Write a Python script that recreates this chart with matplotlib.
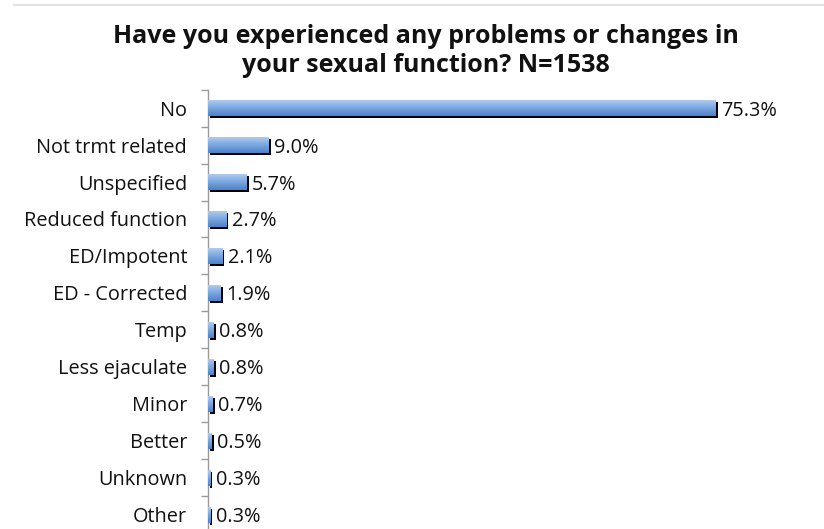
import numpy as np
import matplotlib
matplotlib.use("Agg")
import matplotlib.pyplot as plt
import matplotlib.patheffects as pe
from matplotlib.lines import Line2D

categories = ["No", "Not trmt related", "Unspecified", "Reduced function", "ED/Impotent",
              "ED - Corrected", "Temp", "Less ejaculate", "Minor", "Better", "Unknown", "Other"]
values = [75.3, 9.0, 5.7, 2.7, 2.1, 1.9, 0.8, 0.8, 0.7, 0.5, 0.3, 0.3]
title = "Have you experienced any problems or changes in\nyour sexual function? N=1538"

plt.rcParams['font.family'] = ['Open Sans', 'DejaVu Sans']

W, H = 824, 529
fig = plt.figure(figsize=(W / 100, H / 100), dpi=100)
# axes placed in pixel terms, bottom runs slightly past the figure edge
left, right, top = 208, 815, 89.6
ax = fig.add_axes([left / W, -0.008, (right - left) / W, (H - top) / H + 0.008])

y = np.arange(len(categories))
bh = 0.44
bars = ax.barh(y, values, height=bh, color="#6a9bd8", linewidth=0,
               path_effects=[pe.SimplePatchShadow(offset=(1.6, -1.5), shadow_rgbFace="k", alpha=1),
                             pe.Normal()], zorder=2)

# vertical gradient on each bar
grad = np.linspace(0, 1, 64).reshape(-1, 1)
cmap = matplotlib.colors.LinearSegmentedColormap.from_list("g", ["#b5d0f2", "#7aa8e2", "#4f81c7"])
for b, yi, v in zip(bars, y, values):
    im = ax.imshow(grad, cmap=cmap, aspect="auto", extent=(0, v, yi + bh / 2, yi - bh / 2),
                   zorder=3, interpolation="bilinear")
    im.set_clip_path(b)
    ax.text(v + 0.85, yi, f"{v:.1f}%", va="center_baseline", ha="left", fontsize=14.3,
            color="#111111", zorder=4)

ax.set_xlim(0, 90)
ax.set_ylim(11.5, -0.5)
ax.set_yticks(y)
ax.set_yticklabels(categories, fontsize=14.3, color="#111111")
for t in ax.get_yticklabels():
    t.set_va("center_baseline")
ax.set_yticks(np.arange(-0.5, 12, 1), minor=True)
ax.tick_params(axis="y", which="major", length=0, pad=15)
ax.tick_params(axis="y", which="minor", length=5, color="#999999", width=1)
ax.set_xticks([])
for s in ["top", "right", "bottom"]:
    ax.spines[s].set_visible(False)
ax.spines["left"].set_color("#999999")
ax.spines["left"].set_linewidth(1)

fig.text(426 / W, 1 - 51 / H, title, ha="center", va="center", fontsize=18,
         fontweight="bold", linespacing=1.25, color="#111111")
fig.add_artist(Line2D([14 / W, 1], [1 - 5 / H, 1 - 5 / H], color="#e3e3e3", lw=1.5))

fig.savefig("out.png", dpi=100)
